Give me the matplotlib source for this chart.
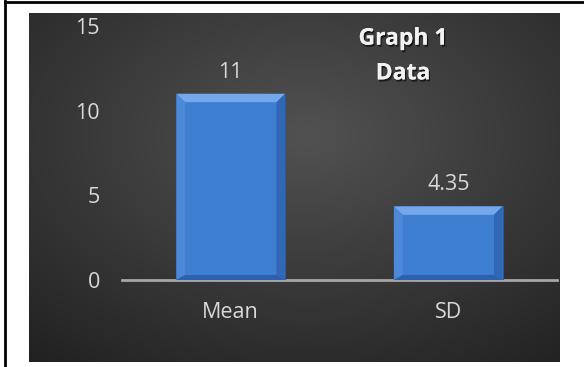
import numpy as np
import matplotlib
matplotlib.use("Agg")
import matplotlib.pyplot as plt
from matplotlib.patches import Polygon
import matplotlib.patheffects as pe

categories = ["Mean", "SD"]
values = [11, 4.35]
value_labels = ["11", "4.35"]
yticks = [0, 5, 10, 15]
title = "Graph 1\nData"

W, H = 584, 367
fig = plt.figure(figsize=(W / 100, H / 100), dpi=100)
fig.patch.set_facecolor("white")

def fx(px):
    return px / W

def fy(py):
    return 1 - py / H

# dark gradient panel
px0, py0, px1, py1 = 29, 13, 560, 362
bg = fig.add_axes([fx(px0), fy(py1), fx(px1 - px0), (py1 - py0) / H])
bg.set_axis_off()
ny, nx = 200, 300
yy, xx = np.mgrid[0:ny, 0:nx]
cx, cy = nx * 0.52, ny * 0.35
d = np.sqrt(((xx - cx) / nx) ** 2 + ((yy - cy) / ny) ** 2)
d = d / d.max()
val = 0.32 - 0.19 * d
img = np.dstack([val, val, val])
bg.imshow(img, aspect="auto", extent=[0, 1, 0, 1], interpolation="bilinear")
bg.set_xlim(0, 1)
bg.set_ylim(0, 1)

# outer border lines (left and top)
fig.add_artist(plt.Line2D([fx(5), fx(5)], [0, fy(1)], color="black", lw=2))
fig.add_artist(plt.Line2D([fx(5), 1], [fy(1.5), fy(1.5)], color="black", lw=2))

# main axes
ax_l, ax_r, ax_b, ax_t = 122, 557, 280, 26
ax = fig.add_axes([fx(ax_l), fy(ax_b), fx(ax_r - ax_l), (ax_b - ax_t) / H])
ax.set_facecolor("none")
x = np.arange(len(categories))
bw = 0.5
bars = ax.bar(x, values, width=bw, color="#3f7fd2", edgecolor="#2a5a9a",
              linewidth=0.8, zorder=3)
ax.set_xlim(-0.5, len(categories) - 0.5)
ax.set_ylim(0, 15)

# bevel effect on bars
for b in bars:
    x0 = b.get_x(); x1 = x0 + b.get_width(); h = b.get_height()
    dx = 0.04; dy = 0.5
    ax.add_patch(Polygon([[x0, h], [x1, h], [x1 - dx, h - dy], [x0 + dx, h - dy]],
                         closed=True, color="#74a8ea", zorder=4, lw=0))
    ax.add_patch(Polygon([[x0, h], [x0 + dx, h - dy], [x0 + dx, dy * 0.6], [x0, 0]],
                         closed=True, color="#4d89d8", zorder=4, lw=0))
    ax.add_patch(Polygon([[x1, h], [x1 - dx, h - dy], [x1 - dx, dy * 0.6], [x1, 0]],
                         closed=True, color="#3068b5", zorder=4, lw=0))
    ax.add_patch(Polygon([[x0, 0], [x1, 0], [x1 - dx, dy * 0.6], [x0 + dx, dy * 0.6]],
                         closed=True, color="#2c62ad", zorder=4, lw=0))

for xi, v, lab in zip(x, values, value_labels):
    ax.text(xi, v + 0.95, lab, ha="center", va="baseline", color="#d9d9d9",
            fontsize=15.5, family="Open Sans", zorder=5)

for s in ["top", "right", "left"]:
    ax.spines[s].set_visible(False)
ax.spines["bottom"].set_color("#a6a6a6")
ax.spines["bottom"].set_linewidth(2)
ax.set_yticks(yticks)
ax.set_yticklabels([str(t) for t in yticks], color="#d9d9d9", fontsize=15.5,
                   family="Open Sans")
ax.set_xticks(x)
ax.set_xticklabels(categories, color="#d9d9d9", fontsize=15.5, family="Open Sans")
ax.tick_params(axis="y", length=0, pad=16)
ax.tick_params(axis="x", length=0, pad=16)

fig.text(fx(403), fy(56), title, ha="center", va="center", color="#f2f2f2",
         fontsize=16.5, fontweight="bold", family="Open Sans", linespacing=1.6,
         path_effects=[pe.withSimplePatchShadow(offset=(1, -1.5), shadow_rgbFace="black", alpha=0.6),
                       pe.Normal()])

fig.savefig("out.png", dpi=100, facecolor="white")
